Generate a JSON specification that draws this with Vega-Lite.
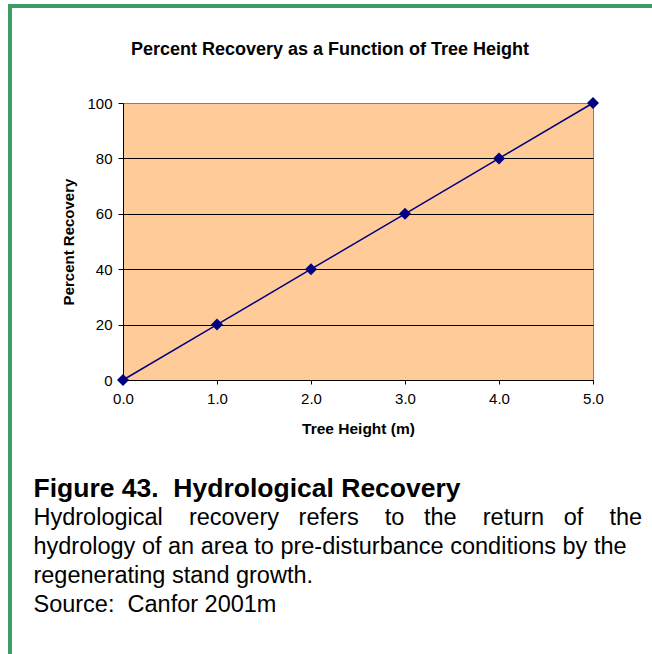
{
  "$schema": "https://vega.github.io/schema/vega-lite/v6.json",
  "padding": {"left": 8, "top": 4, "right": 0, "bottom": 0},
  "background": "white",
  "config": {"font": "Liberation Sans", "view": {"stroke": null}},
  "spacing": 0,
  "vconcat": [
    {
      "width": 644, "height": 4,
      "view": {"fill": "#3C9C64", "stroke": null},
      "data": {"values": []},
      "mark": "rect",
      "encoding": {}
    },
    {
      "spacing": 21,
      "hconcat": [
        {
          "width": 4, "height": 646,
          "view": {"fill": "#3C9C64", "stroke": null},
          "data": {"values": []},
          "mark": "rect",
          "encoding": {}
        },
        {
          "spacing": 31,
          "title": {
            "text": "Figure 43.\u00a0 Hydrological Recovery",
            "orient": "bottom",
            "anchor": "start",
            "dx": -28,
            "offset": 39,
            "font": "Liberation Sans",
            "fontSize": 26.5,
            "fontWeight": "bold",
            "color": "black",
            "subtitle": [
              "Hydrological\u00a0\u00a0\u00a0\u00a0recovery\u00a0\u00a0\u00a0refers\u00a0\u00a0\u00a0\u00a0to\u00a0\u00a0\u00a0the\u00a0\u00a0\u00a0\u00a0return\u00a0\u00a0\u00a0of\u00a0\u00a0\u00a0\u00a0the",
              "hydrology of an area to pre-disturbance conditions by the",
              "regenerating stand growth.",
              "Source:\u00a0 Canfor 2001m"
            ],
            "subtitleFont": "Liberation Sans",
            "subtitleFontSize": 23.5,
            "subtitleColor": "black",
            "subtitleLineHeight": 29.2,
            "subtitlePadding": 3
          },
          "vconcat": [
            {
              "width": 470, "height": 1,
              "data": {"values": []},
              "mark": "rect",
              "encoding": {}
            },
            {
              "width": 470,
              "height": 277,
              "title": {
                "text": "Percent Recovery as a Function of Tree Height",
                "fontSize": 18,
                "fontWeight": "bold",
                "color": "black",
                "offset": 37,
                "dx": -28
              },
              "view": {"fill": "#FFCC99", "stroke": "#808080", "strokeWidth": 1},
              "data": {
                "values": [
                  {"height": 0, "recovery": 0},
                  {"height": 1, "recovery": 20},
                  {"height": 2, "recovery": 40},
                  {"height": 3, "recovery": 60},
                  {"height": 4, "recovery": 80},
                  {"height": 5, "recovery": 100}
                ]
              },
              "encoding": {
                "x": {
                  "field": "height",
                  "type": "quantitative",
                  "scale": {"domain": [0, 5], "nice": false},
                  "axis": {
                    "values": [0, 1, 2, 3, 4, 5],
                    "format": ".1f",
                    "title": "Tree Height (m)",
                    "grid": false,
                    "domainColor": "black",
                    "tickColor": "black",
                    "tickSize": 4,
                    "labelFontSize": 15,
                    "labelColor": "black",
                    "labelPadding": 7,
                    "labelFlush": false,
                    "titleFontSize": 15.5,
                    "titleFontWeight": "bold",
                    "titleColor": "black",
                    "titlePadding": 15
                  }
                },
                "y": {
                  "field": "recovery",
                  "type": "quantitative",
                  "scale": {"domain": [0, 100], "nice": false},
                  "axis": {
                    "values": [0, 20, 40, 60, 80, 100],
                    "title": "Percent Recovery",
                    "grid": true,
                    "gridColor": {"condition": {"test": "datum.value === 100", "value": "#808080"}, "value": "black"},
                    "gridOpacity": 1,
                    "gridWidth": 1,
                    "domainColor": "black",
                    "tickColor": "black",
                    "tickSize": 5,
                    "labelFontSize": 15,
                    "labelColor": "black",
                    "labelPadding": 6,
                    "labelFlush": false,
                    "titleFontSize": 15,
                    "titleFontWeight": "bold",
                    "titleColor": "black",
                    "titlePadding": 10
                  }
                }
              },
              "layer": [
                {
                  "mark": {"type": "line", "color": "#000080", "strokeWidth": 1.5},
                  "encoding": {}
                },
                {
                  "mark": {"type": "point", "shape": "diamond", "filled": true, "color": "#000080", "size": 145, "opacity": 1},
                  "encoding": {}
                }
              ]
            }
          ]
        }
      ]
    }
  ]
}
